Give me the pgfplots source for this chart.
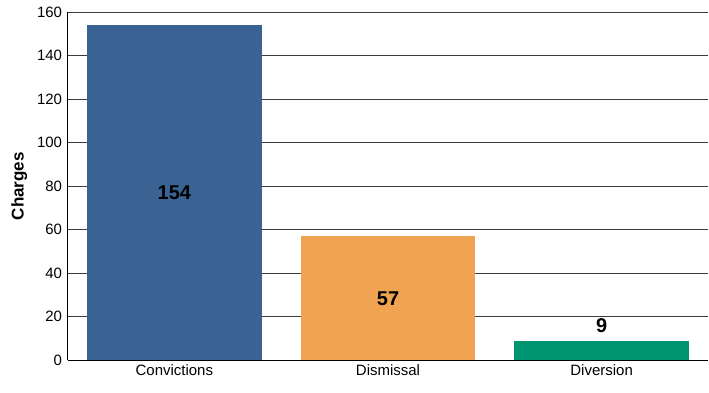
\documentclass[border=0pt]{standalone}
\usepackage{pgfplots}
\pgfplotsset{compat=1.18}
\usepackage{fontspec}
\setmainfont{Liberation Sans}
\definecolor{cblue}{HTML}{3A6393}
\definecolor{corange}{HTML}{F0A452}
\definecolor{cgreen}{HTML}{009470}
\definecolor{gridc}{HTML}{3C3C3C}
\begin{document}
\begin{tikzpicture}
\begin{axis}[
    width=642pt, height=349pt, scale only axis,
    xmin=-0.5, xmax=2.5, ymin=0, ymax=160,
    ytick={0,20,...,160},
    xtick={0,1,2},
    xticklabels={Convictions,Dismissal,Diversion},
    axis x line*=bottom, axis y line*=left,
    axis line style={black, line width=1.1pt},
    x axis line style={-}, y axis line style={-},
    ymajorgrids, grid style={gridc, line width=0.9pt},
    major tick length=0pt,
    tick label style={font=\fontsize{15}{17}\selectfont},
    yticklabel style={xshift=-2pt},
    /pgf/number format/assume math mode=true,
    ylabel={\textbf{Charges}},
    ylabel style={font=\fontsize{17}{19}\selectfont, yshift=3pt},
    xticklabel style={yshift=-1pt},
    ybar, bar width=175pt,
]
\addplot[fill=cblue, draw=none, bar shift=0pt] coordinates {(0,154)};
\addplot[fill=corange, draw=none, bar shift=0pt] coordinates {(1,57)};
\addplot[fill=cgreen, draw=none, bar shift=0pt] coordinates {(2,9)};
\addplot[draw=none, mark=none, bar shift=0pt, fill=none,
    nodes near coords, point meta=explicit symbolic,
    nodes near coords style={anchor=center, font=\fontsize{20}{22}\selectfont\bfseries}]
    coordinates {(0,77)[154] (1,28.5)[57] (2,16)[9]};
\end{axis}
\path ([xshift=-8pt,yshift=-13pt]current axis.outer south west) rectangle ([yshift=12pt]current axis.north east);
\end{tikzpicture}
\end{document}
